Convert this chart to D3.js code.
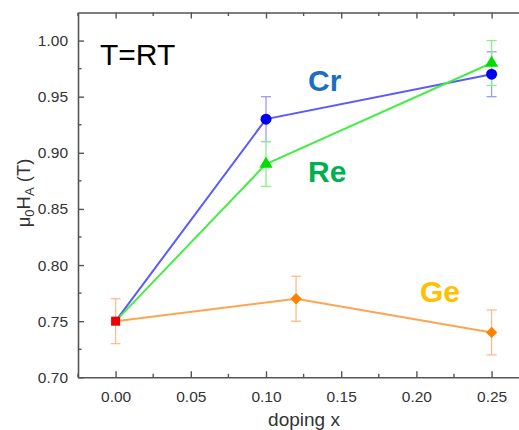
<!DOCTYPE html>
<html><head><meta charset="utf-8">
<script src="https://cdn.jsdelivr.net/npm/d3@7"></script>
<style>body{margin:0;background:#fff}svg{display:block}text{font-family:"Liberation Sans",Arial,sans-serif}</style>
</head><body>
<script>
const xTicks = [0.00, 0.05, 0.10, 0.15, 0.20, 0.25];
const yTicks = [0.70, 0.75, 0.80, 0.85, 0.90, 0.95, 1.00];
const crX = [0.00, 0.10, 0.25];
const crY = [0.75, 0.93, 0.97];
const crErr = [0, 0.02, 0.02];
const reX = [0.00, 0.10, 0.25];
const reY = [0.75, 0.89, 0.98];
const reErr = [0, 0.02, 0.02];
const geX = [0.00, 0.12, 0.25];
const geY = [0.75, 0.77, 0.74];
const geErr = [0.02, 0.02, 0.02];
const refX = [0.00];
const refY = [0.75];

const W = 519, H = 430;
const L = 78, T = 12.5, B = 377.3;
const svg = d3.select("body").append("svg").attr("width", W).attr("height", H);
const x = d3.scaleLinear().domain([-0.025, 0.275]).range([L, 529.2]);
const y = d3.scaleLinear().domain([0.70, 1.025]).range([B, T]);

const axCol = "#555";
const xMinor = d3.range(-0.025, 0.276, 0.025).filter(v => Math.abs(Math.round(v/0.05)*0.05 - v) > 1e-6);
const yMinor = d3.range(0.725, 1.02, 0.05);

const g = svg.append("g");
const bx = g.append("g").attr("transform", `translate(0,${B})`)
  .call(d3.axisBottom(x).tickValues(xTicks).tickFormat(d3.format(".2f")).tickSizeInner(-6).tickSizeOuter(0).tickPadding(14));
const tx = g.append("g").attr("transform", `translate(0,${T})`)
  .call(d3.axisTop(x).tickValues(xTicks).tickFormat("").tickSizeInner(-6).tickSizeOuter(0));
const ly = g.append("g").attr("transform", `translate(${L},0)`)
  .call(d3.axisLeft(y).tickValues(yTicks).tickFormat(d3.format(".2f")).tickSizeInner(-6).tickSizeOuter(0).tickPadding(10));
[bx, tx, ly].forEach(a => {
  a.select(".domain").attr("stroke", axCol).attr("stroke-width", 1.6);
  a.selectAll(".tick line").attr("stroke", axCol).attr("stroke-width", 1.4);
  a.selectAll(".tick text").attr("fill", "#333").style("font-size", "15.5px");
});
g.selectAll(".mxb").data(xMinor).join("line")
  .attr("x1", d => x(d)).attr("x2", d => x(d)).attr("y1", B).attr("y2", B - 3.5)
  .attr("stroke", axCol).attr("stroke-width", 1.4);
g.selectAll(".mxt").data(xMinor).join("line")
  .attr("x1", d => x(d)).attr("x2", d => x(d)).attr("y1", T).attr("y2", T + 3.5)
  .attr("stroke", axCol).attr("stroke-width", 1.4);
g.selectAll(".myl").data(yMinor).join("line")
  .attr("x1", L).attr("x2", L + 3.5).attr("y1", d => y(d)).attr("y2", d => y(d))
  .attr("stroke", axCol).attr("stroke-width", 1.4);

svg.append("text").attr("x", 304).attr("y", 426).attr("text-anchor", "middle")
  .attr("fill", "#333").style("font-size", "19px").text("doping x");
const yl = svg.append("text").attr("transform", "translate(30,193) rotate(-90)")
  .attr("text-anchor", "middle").attr("fill", "#333").style("font-size", "18.5px");
yl.append("tspan").text("μ");
yl.append("tspan").attr("dy", 4).style("font-size", "13px").text("0");
yl.append("tspan").attr("dy", -4).text("H");
yl.append("tspan").attr("dy", 4).style("font-size", "13px").text("A");
yl.append("tspan").attr("dy", -4).text(" (T)");

const line = d3.line().x(d => x(d[0])).y(d => y(d[1]));
function series(xs, ys, errs, lineCol, errCol) {
  const pts = xs.map((v, i) => [v, ys[i], errs[i]]);
  svg.append("path").datum(pts).attr("d", line).attr("fill", "none")
    .attr("stroke", lineCol).attr("stroke-width", 2);
  const eb = svg.append("g").attr("stroke", errCol).attr("stroke-width", 1.3);
  pts.filter(p => p[2] > 0).forEach(p => {
    const cx = x(p[0]);
    eb.append("line").attr("x1", cx).attr("x2", cx).attr("y1", y(p[1] - p[2])).attr("y2", y(p[1] + p[2]));
    eb.append("line").attr("x1", cx - 5).attr("x2", cx + 5).attr("y1", y(p[1] - p[2])).attr("y2", y(p[1] - p[2]));
    eb.append("line").attr("x1", cx - 5).attr("x2", cx + 5).attr("y1", y(p[1] + p[2])).attr("y2", y(p[1] + p[2]));
  });
  return pts;
}
const gePts = series(geX, geY, geErr, "#ffa552", "#ffbb88");
const crPts = series(crX, crY, crErr, "#5a5aff", "#9a9aff");
const rePts = series(reX, reY, reErr, "#44ee44", "#88ee88");

svg.selectAll(".cr").data(crPts.slice(1)).join("circle")
  .attr("cx", d => x(d[0])).attr("cy", d => y(d[1])).attr("r", 5.5).attr("fill", "#0000ee");
svg.selectAll(".re").data(rePts.slice(1)).join("path")
  .attr("d", d3.symbol(d3.symbolTriangle, 75))
  .attr("transform", d => `translate(${x(d[0])},${y(d[1])})`).attr("fill", "#00dd00");
svg.selectAll(".ge").data(gePts.slice(1)).join("path")
  .attr("d", d3.symbol(d3.symbolSquare, 64))
  .attr("transform", d => `translate(${x(d[0])},${y(d[1])}) rotate(45)`).attr("fill", "#ff8000");
svg.selectAll(".ref").data(refX.map((v, i) => [v, refY[i]])).join("rect")
  .attr("x", d => x(d[0]) - 4.5).attr("y", d => y(d[1]) - 4.5).attr("width", 9).attr("height", 9)
  .attr("fill", "#ee0000");

svg.append("text").attr("x", 100).attr("y", 65).style("font-size", "30px").attr("fill", "#000").text("T=RT");
svg.append("text").attr("x", 308).attr("y", 91).style("font-size", "30px").style("font-weight", "bold").attr("fill", "#1a6fc4").text("Cr");
svg.append("text").attr("x", 308).attr("y", 182).style("font-size", "30px").style("font-weight", "bold").attr("fill", "#00b050").text("Re");
svg.append("text").attr("x", 420).attr("y", 302).style("font-size", "30px").style("font-weight", "bold").attr("fill", "#ffc000").text("Ge");
</script>
</body></html>
